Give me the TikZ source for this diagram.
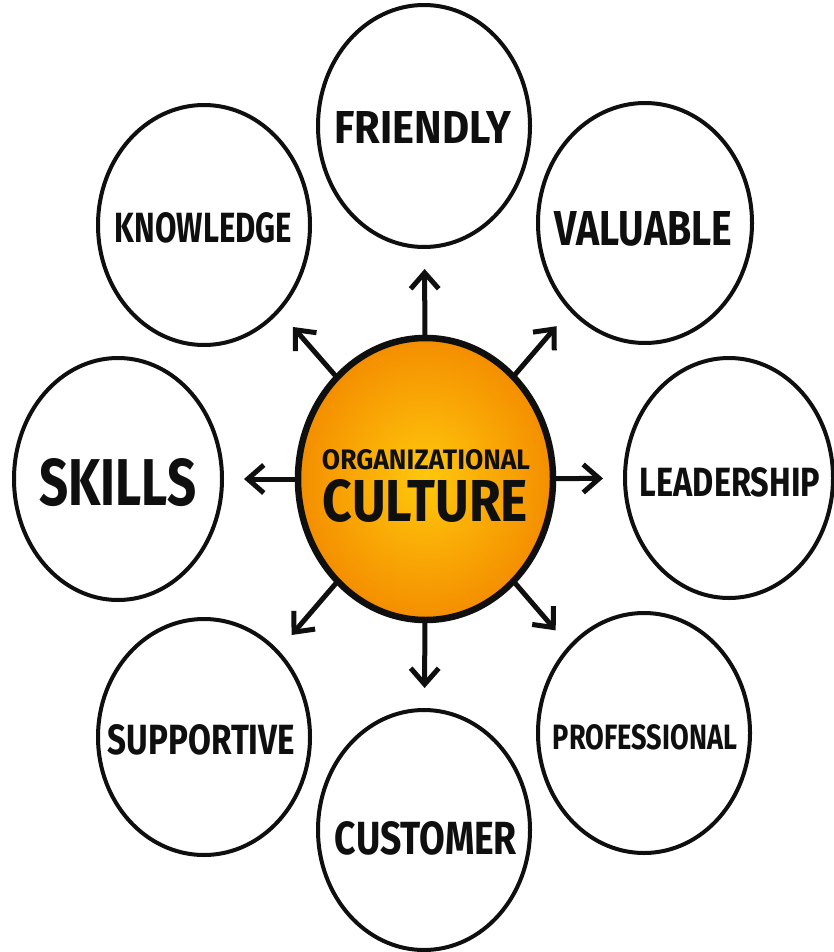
\documentclass[tikz,border=0pt]{standalone}
\usepackage{graphicx}
\usepackage{fontspec}
\setmainfont{Fira Sans}
\usetikzlibrary{shapes.geometric,arrows.meta}
\definecolor{ink}{RGB}{15,15,15}
\definecolor{orin}{RGB}{255,200,12}
\definecolor{orout}{RGB}{244,142,0}
\newcommand{\fitword}[3]{\resizebox{#1pt}{#2pt}{#3}}
\tikzset{
  bubble/.style={ellipse, draw=ink, line width=4pt, fill=white, inner sep=0pt},
  hub/.style={ellipse, draw=ink, line width=6.5pt, inner sep=0pt, minimum width=255pt, minimum height=282pt, inner color=orin, outer color=orout},
  lbl/.style={inner sep=0pt, text=ink, font=\bfseries},
  arr/.style={draw=ink, line width=5pt, -{Straight Barb[length=16pt,width=28pt]}, shorten >=20pt, line cap=round, line join=round},
}
\begin{document}
\begin{tikzpicture}[x=1pt,y=-1pt]
\useasboundingbox[fill=white] (0,0) rectangle (833,952);
% outer bubbles
\node[bubble, minimum width=212pt, minimum height=242pt] (F) at (424,126) {};
\node[bubble, minimum width=212pt, minimum height=240pt] (K) at (204,225) {};
\node[bubble, minimum width=214pt, minimum height=240pt] (V) at (645,223) {};
\node[bubble, minimum width=208pt, minimum height=242pt] (S) at (118,479) {};
\node[bubble, minimum width=208pt, minimum height=240pt] (L) at (729,478) {};
\node[bubble, minimum width=212pt, minimum height=236pt] (SU) at (204,737) {};
\node[bubble, minimum width=212pt, minimum height=240pt] (P) at (644,733) {};
\node[bubble, minimum width=212pt, minimum height=240pt] (CU) at (424,830) {};
% hub
\node[hub] (C) at (425.5,479) {};
% labels
\node[lbl] (Ft) at (423,127) {\fitword{177}{32}{FRIENDLY}};
\node[lbl] (Kt) at (203.5,228) {\fitword{177}{30}{KNOWLEDGE}};
\node[lbl] (Vt) at (643.5,228.5) {\fitword{177}{34}{VALUABLE}};
\node[lbl] (St) at (118,483) {\fitword{157}{47}{SKILLS}};
\node[lbl] (Lt) at (730,482) {\fitword{180}{29}{LEADERSHIP}};
\node[lbl] (SUt) at (201.5,740) {\fitword{187}{30}{SUPPORTIVE}};
\node[lbl] (Pt) at (645,737.5) {\fitword{184}{25}{PROFESSIONAL}};
\node[lbl] (CUt) at (426,838) {\fitword{182}{33}{CUSTOMER}};
\node[lbl] (Ot) at (426,460) {\fitword{208}{20}{ORGANIZATIONAL}};
\node[lbl] (CLt) at (425.5,501) {\fitword{205}{42}{CULTURE}};
% arrows
\draw[arr] (C) -- (F);
\draw[arr] (C) -- (K);
\draw[arr] (C) -- (V);
\draw[arr] (C) -- (S);
\draw[arr] (C) -- (L);
\draw[arr] (C) -- (SU);
\draw[arr] (C) -- (P);
\draw[arr] (C) -- (CU);
\end{tikzpicture}
\end{document}
